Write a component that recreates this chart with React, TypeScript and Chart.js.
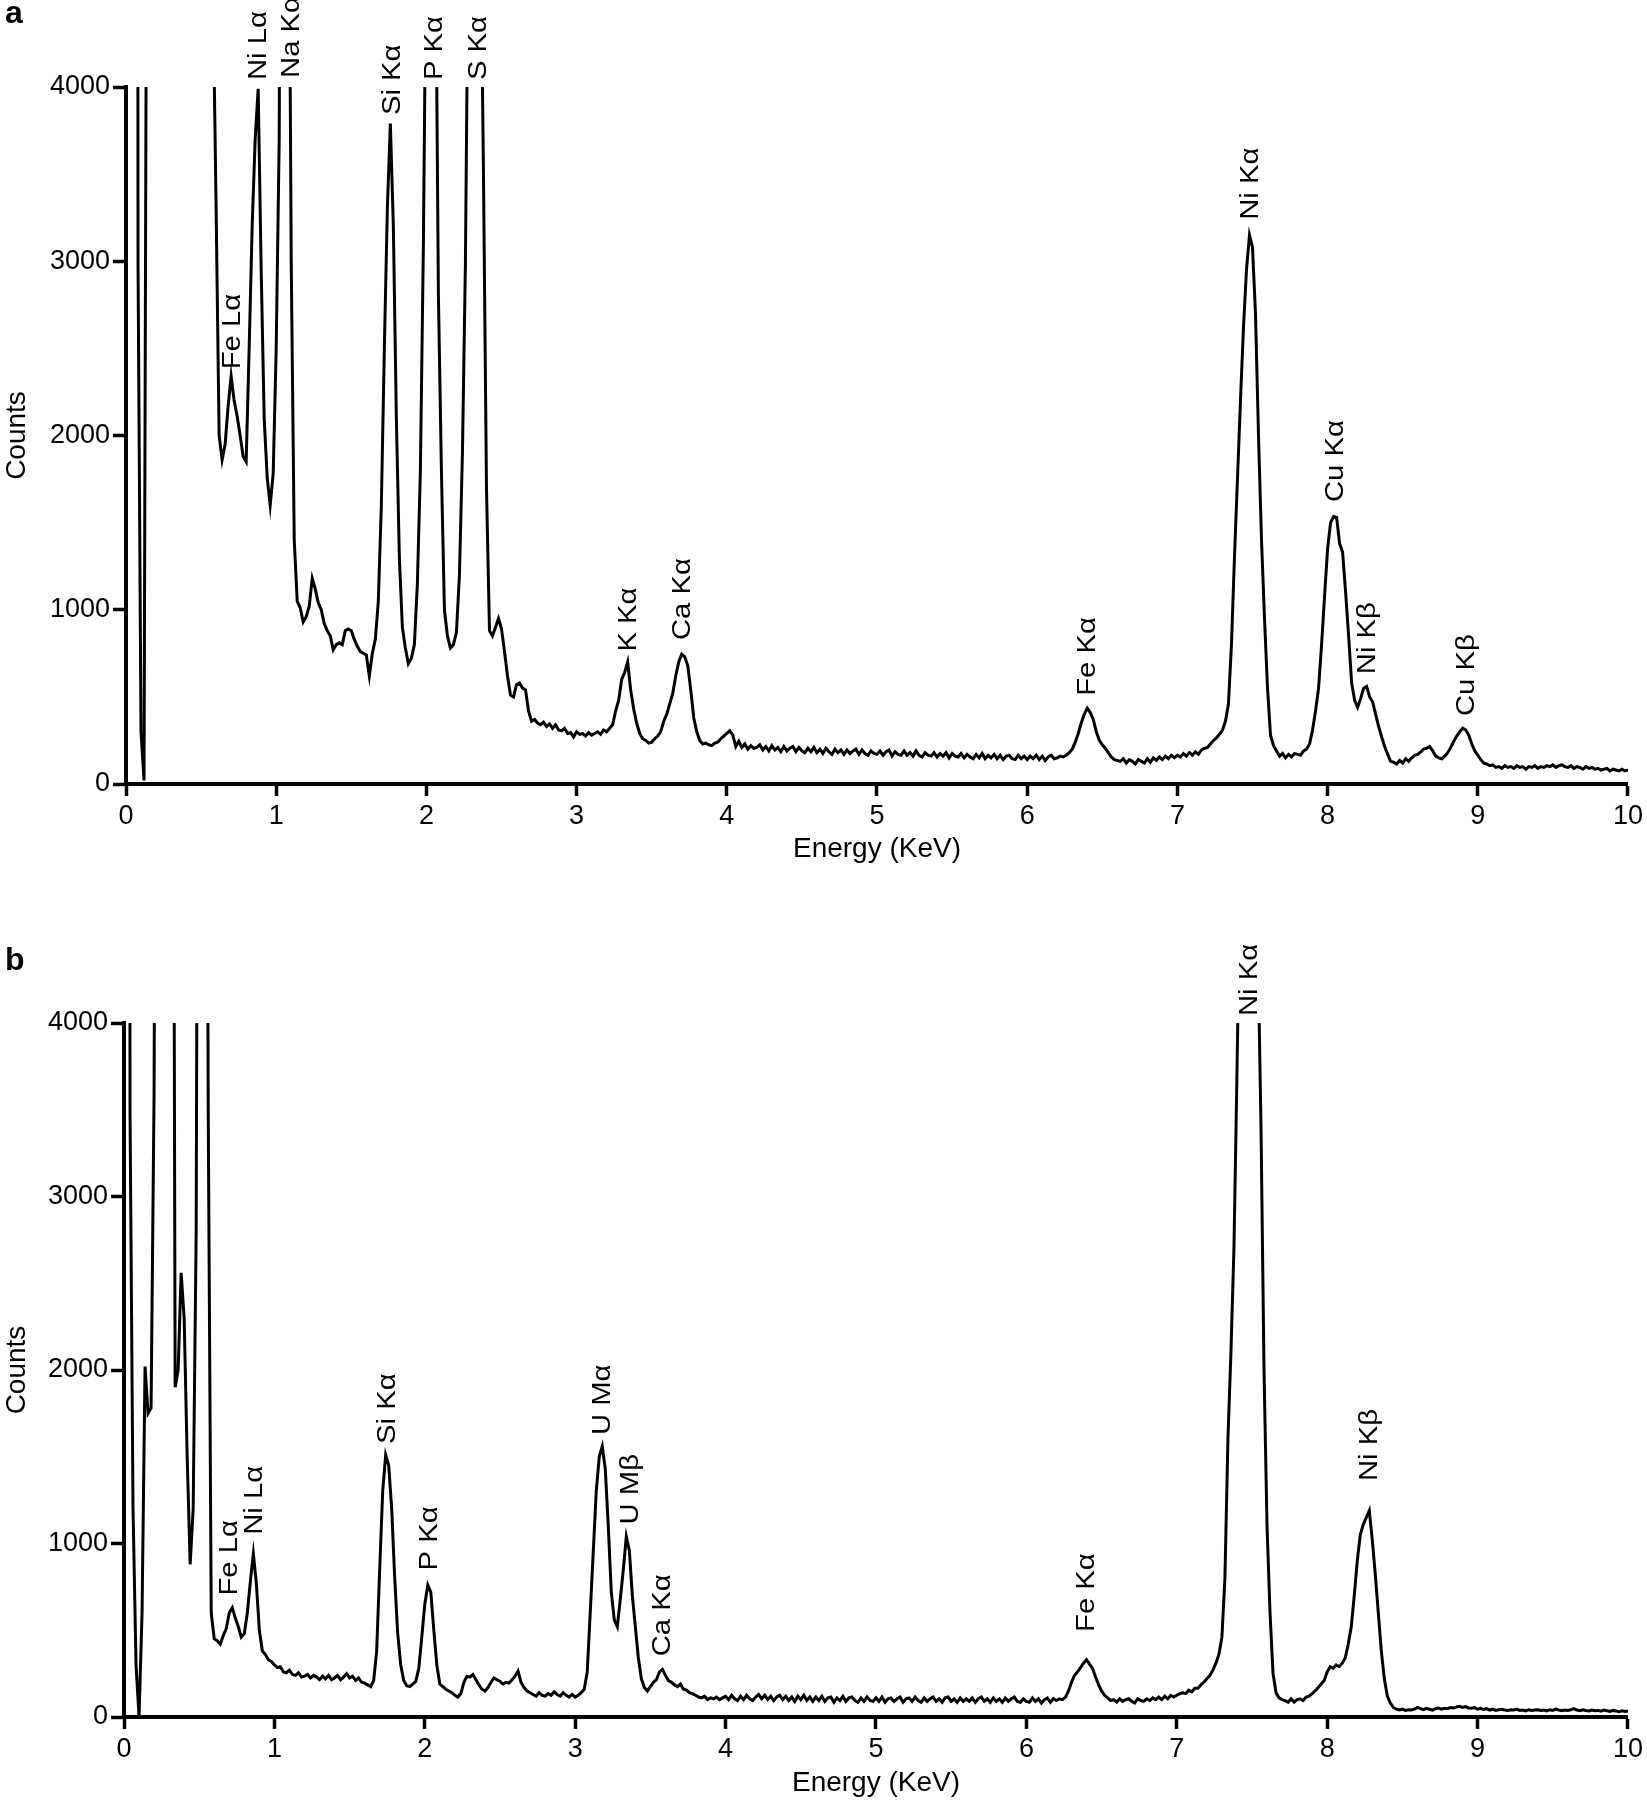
import React, { useEffect, useRef } from "react";
import { Chart, registerables } from "chart.js";

Chart.register(...registerables);

const FONT = '"Liberation Sans", Arial, Helvetica, sans-serif';

// Channel calibration: energy of channel i = ENERGY_START + i * ENERGY_STEP (keV)
const ENERGY_START = 0;
const ENERGY_STEP = 0.02;

const X_TICKS = [0, 1, 2, 3, 4, 5, 6, 7, 8, 9, 10];
const Y_TICKS = [0, 1000, 2000, 3000, 4000];
const X_TITLE = "Energy (KeV)";
const Y_TITLE = "Counts";
const PANEL_LETTERS = ["a", "b"];

// Panel a counts, 0.00 .. 10.00 keV
const countsA = [
  20000, 20000, 20000, 30000, 3000, 300, 20, 6000, 40000, 40000,
  40000, 40000, 40000, 40000, 40000, 40000, 40000, 40000, 40000, 40000,
  40000, 40000, 40000, 40000, 40000, 40000, 30000, 20000, 9000, 4500,
  3300, 2000, 1860, 1950, 2170, 2340, 2200, 2110, 2000, 1880,
  1850, 2500, 3200, 3700, 3990, 2950, 2100, 1760, 1600, 1780,
  2500, 3700, 9000, 12000, 6000, 3000, 1400, 1050, 1010, 930,
  960, 1020, 1180, 1120, 1040, 1000, 920, 880, 850, 770,
  800, 810, 800, 880, 890, 880, 830, 790, 760, 750,
  740, 620, 750, 830, 1050, 1600, 2500, 3300, 3790, 3200,
  2100, 1300, 900, 780, 690, 720, 800, 1150, 1800, 3100,
  5000, 9000, 9000, 5000, 2800, 1800, 1000, 850, 780, 800,
  870, 1200, 1900, 3000, 5000, 9000, 9000, 8000, 5000, 3500,
  1700, 880, 850, 900, 950, 890, 760, 620, 510, 500,
  570, 580, 550, 540, 420, 360, 370, 350, 340, 355,
  330, 345, 320, 340, 310, 305, 320, 290, 295, 270,
  300, 285, 290, 275, 295, 280, 290, 300, 285, 310,
  300, 320, 340, 420, 480, 600, 640, 700, 540, 430,
  350, 290, 260, 250, 235, 240, 260, 275, 300, 360,
  400, 460, 520, 620, 700, 745, 730, 680, 540, 380,
  300, 250, 230, 235, 225, 220, 235, 240, 260, 275,
  290, 305, 280, 215, 245, 210, 230, 200, 220, 205,
  210, 225, 195, 215, 190, 220, 195, 210, 185, 215,
  190, 205, 215, 185, 210, 190, 180, 205, 185, 210,
  180, 200, 175, 205, 185, 170, 200, 180, 195, 170,
  195, 175, 190, 200, 170, 195, 175, 165, 190, 175,
  170, 190, 165, 185, 195, 160, 185, 170, 165, 190,
  165, 180, 160, 190, 165, 155, 180, 165, 160, 180,
  155, 175, 160, 180, 150, 175, 160, 155, 175, 150,
  170, 155, 145, 170, 150, 175, 145, 165, 150, 170,
  145, 165, 140, 160, 165, 145, 140, 165, 145, 160,
  140, 160, 145, 165, 140, 160, 135, 155, 165, 145,
  150, 160, 155, 165, 180, 200, 240, 290, 350, 400,
  435, 410, 370, 300, 250, 225, 205, 180, 155, 140,
  135, 130, 145, 120, 140, 130, 115, 140, 130, 120,
  145, 125, 150, 135, 155, 140, 160, 145, 165, 150,
  165, 155, 175, 160, 180, 165, 185, 170, 195, 205,
  210, 230, 250, 265, 285, 310, 360, 460, 800, 1300,
  1750, 2200, 2620, 2950, 3150, 3080, 2700, 2000, 1400, 950,
  550, 280, 220, 190, 160, 175, 150, 170, 155, 175,
  170, 165, 190, 200, 230, 310, 420, 550, 800, 1080,
  1350, 1500, 1535, 1530, 1380, 1330, 1100, 850, 580, 480,
  440, 490, 550, 560, 500, 470, 400, 330, 270, 215,
  170, 130, 125, 115, 135, 120, 145, 130, 150, 165,
  170, 185, 200, 205, 215, 190, 160, 150, 145, 160,
  180, 210, 245, 275, 300, 320, 310, 280, 230, 190,
  165, 140, 120, 115, 105, 110, 95, 100, 90, 105,
  95, 100, 90, 105, 95, 100, 85, 100, 95, 105,
  90, 100, 95, 105, 100, 110, 95, 105, 110, 100,
  95, 105, 90, 100, 95, 85, 100, 90, 95, 85,
  90, 80, 85, 90, 75, 85, 80, 75, 85, 75,
  80,
];

// Panel b counts, 0.00 .. 10.00 keV
const countsB = [
  30000, 30000, 3500, 1200, 300, 0, 600, 2020, 1750, 1780,
  3600, 9000, 20000, 30000, 30000, 20000, 9000, 1900, 2000, 2560,
  2300, 1500, 880, 1200, 2800, 9000, 20000, 9000, 3500, 600,
  450, 440, 420, 470, 510, 600, 630, 570, 520, 460,
  480, 600, 780, 940, 770, 500, 380, 360, 330, 320,
  300, 285, 290, 260, 255, 270, 245, 240, 255, 230,
  235, 245, 225, 240, 230, 215, 235, 220, 240, 215,
  225, 240, 215, 230, 250, 225, 235, 210, 225, 200,
  195, 185, 175, 210, 380, 850, 1300, 1510, 1450, 1200,
  800, 480, 300, 210, 180, 175, 190, 205, 280, 460,
  650, 760, 720, 500, 300, 190, 175, 160, 150, 140,
  125, 115, 135, 200, 235, 230, 245, 215, 185, 160,
  150, 170, 200, 225, 215, 205, 190, 200, 195, 215,
  235, 265, 200, 170, 150, 140, 130, 120, 140, 125,
  120, 135, 125, 145, 130, 120, 140, 125, 115, 130,
  115, 125, 140, 160, 260, 600, 950, 1300, 1500, 1560,
  1430, 1100, 720, 560, 520, 680, 850, 1040, 960, 700,
  520, 340, 220, 170, 150, 175, 200, 215, 260, 275,
  240, 210, 200, 185, 175, 190, 160, 155, 140, 135,
  125, 115, 110, 120, 100, 110, 105, 115, 100, 110,
  120, 100, 125, 105, 95, 120, 100, 125, 105, 95,
  115, 130, 105, 125, 100, 120, 95, 115, 125, 100,
  120, 95, 115, 90, 120, 100, 125, 95, 115, 90,
  115, 95, 120, 90, 110, 115, 85, 110, 95, 120,
  90, 110, 115, 95, 85, 110, 90, 115, 95, 90,
  110, 90, 115, 85, 105, 110, 90, 105, 115, 85,
  105, 110, 90, 115, 95, 85, 110, 90, 105, 115,
  90, 105, 85, 110, 115, 90, 105, 85, 110, 90,
  105, 90, 110, 85, 105, 115, 90, 105, 85, 110,
  90, 105, 85, 110, 90, 105, 115, 90, 85, 105,
  90, 85, 110, 90, 105, 80, 100, 110, 85, 105,
  95, 105, 100, 115, 150, 200, 240, 260, 285, 310,
  330, 305, 280, 230, 185, 150, 125, 110, 95, 100,
  85, 105, 90, 100, 105, 90, 80, 105, 95, 90,
  105, 95, 110, 100, 115, 100, 120, 105, 125, 115,
  125, 135, 140, 135, 155, 145, 165, 165, 185, 200,
  220, 240, 270, 310, 360, 460, 800, 1600, 2100, 2700,
  3700, 4800, 6000, 6800, 7000, 6900, 6200, 4400, 3400, 2000,
  1100, 600, 250, 140, 110, 100, 95, 85, 105, 85,
  100, 105, 95, 115, 120, 135, 150, 170, 190, 210,
  260, 290, 280, 300, 290, 310, 340, 420, 520, 700,
  900, 1050, 1110, 1150, 1190, 1020, 820, 600, 380, 220,
  120, 80, 55, 45, 40, 45, 38, 42, 40, 45,
  55, 48, 42, 50, 45, 40, 48, 52, 45, 50,
  48, 55, 52, 58, 62, 55, 60, 52, 50, 55,
  45, 50, 42, 48, 40, 45, 38, 42, 45, 40,
  38, 42, 40, 45, 38, 40, 35, 42, 38, 40,
  42, 38, 40, 35, 42, 38, 45, 40, 36, 40,
  38, 42, 48, 40, 36, 42, 38, 35, 40, 36,
  38, 34, 40, 36, 32, 38, 35, 30, 36, 32,
  35,
];

// Peak annotations: name, energy (keV), count level where the label starts
const peakNamesA = ["Fe L\u03b1", "Ni L\u03b1", "Na K\u03b1", "Si K\u03b1", "P K\u03b1", "S K\u03b1", "K K\u03b1", "Ca K\u03b1", "Fe K\u03b1", "Ni K\u03b1", "Cu K\u03b1", "Ni K\u03b2", "Cu K\u03b2"];
const peakEnergiesA = [0.714, 0.884, 1.105, 1.776, 2.058, 2.348, 3.35, 3.712, 6.405, 7.49, 8.058, 8.273, 8.926];
const peakLabelCountsA = [2380, 4040, 4052, 3839, 4040, 4040, 760, 826, 506, 3238, 1618, 630, 390];

const peakNamesB = ["Fe L\u03b1", "Ni L\u03b1", "Si K\u03b1", "P K\u03b1", "U M\u03b1", "U M\u03b2", "Ca K\u03b1", "Fe K\u03b1", "Ni K\u03b1", "Ni K\u03b2"];
const peakEnergiesB = [0.706, 0.875, 1.759, 2.036, 3.187, 3.37, 3.583, 6.402, 7.485, 8.285];
const peakLabelCountsB = [700, 1050, 1574, 845, 1625, 1110, 350, 490, 4040, 1360];

type PanelProps = {
  counts: number[];
  names: string[];
  energies: number[];
  anchors: number[];
  letter: string;
  top: number;
  padTop: number;
  padRight: number;
  yWidth: number;
  xHeight: number;
  xTitlePad: number;
  letterBaseline: number;
};

function Panel(p: PanelProps) {
  const ref = useRef<HTMLCanvasElement | null>(null);
  useEffect(() => {
    if (!ref.current) return;
    const points = p.counts.map((c, i) => ({
      x: Math.round((ENERGY_START + i * ENERGY_STEP) * 100) / 100,
      y: c,
    }));
    const labelPlugin = {
      id: "peakLabels",
      afterDraw(chart: any) {
        const { ctx } = chart;
        const xs = chart.scales.x;
        const ys = chart.scales.y;
        ctx.save();
        ctx.fillStyle = "#000";
        ctx.font = `25px ${FONT}`;
        ctx.textAlign = "left";
        ctx.textBaseline = "middle";
        p.names.forEach((name, i) => {
          const px = xs.getPixelForValue(p.energies[i]);
          const py = ys.getPixelForValue(p.anchors[i]);
          ctx.save();
          ctx.translate(px, py);
          ctx.rotate(-Math.PI / 2);
          ctx.scale(1.17, 1);
          ctx.fillText(name, 0, 0);
          ctx.restore();
        });
        ctx.font = `bold 32px ${FONT}`;
        ctx.textBaseline = "alphabetic";
        ctx.fillText(p.letter, 5, p.letterBaseline);
        ctx.restore();
      },
    };
    const chart = new Chart(ref.current, {
      type: "line",
      data: {
        datasets: [
          {
            data: points,
            borderColor: "#000",
            borderWidth: 3,
            pointRadius: 0,
            tension: 0,
            fill: false,
            clip: 0,
          } as any,
        ],
      },
      options: {
        animation: false,
        responsive: false,
        devicePixelRatio: 1,
        layout: { padding: { top: p.padTop, right: p.padRight, left: 0, bottom: 0 } },
        plugins: { legend: { display: false }, tooltip: { enabled: false } },
        scales: {
          x: {
            type: "linear",
            min: 0,
            max: 10,
            afterBuildTicks: (axis: any) => {
              axis.ticks = X_TICKS.map((v) => ({ value: v }));
            },
            afterFit: (axis: any) => {
              axis.height = p.xHeight;
            },
            ticks: {
              color: "#000",
              font: { family: FONT, size: 27 },
              padding: 4,
              maxRotation: 0,
              autoSkip: false,
              callback: (v: any) => String(v),
            },
            grid: {
              display: true,
              drawOnChartArea: false,
              drawTicks: true,
              tickLength: 12,
              tickWidth: 3.5,
              tickColor: "#000",
              color: "#000",
            },
            border: { display: true, color: "#000", width: 4 },
            title: {
              display: true,
              text: X_TITLE,
              color: "#000",
              font: { family: FONT, size: 28 },
              padding: { top: 0, bottom: p.xTitlePad },
            },
          },
          y: {
            type: "linear",
            min: 0,
            max: 4000,
            afterBuildTicks: (axis: any) => {
              axis.ticks = Y_TICKS.map((v) => ({ value: v }));
            },
            afterFit: (axis: any) => {
              axis.width = p.yWidth;
            },
            ticks: {
              color: "#000",
              font: { family: FONT, size: 27 },
              padding: 3,
              autoSkip: false,
              callback: (v: any) => String(v),
            },
            grid: {
              display: true,
              drawOnChartArea: false,
              drawTicks: true,
              tickLength: 13,
              tickWidth: 3.5,
              tickColor: "#000",
              color: "#000",
            },
            border: { display: true, color: "#000", width: 4 },
            title: {
              display: true,
              text: Y_TITLE,
              color: "#000",
              font: { family: FONT, size: 28 },
              padding: { top: 0, bottom: 0 },
            },
          },
        },
      } as any,
      plugins: [labelPlugin],
    });
    return () => chart.destroy();
  }, []);
  return (
    <div style={{ position: "absolute", left: 0, top: p.top, width: 1647, height: 900 }}>
      <canvas ref={ref} width={1647} height={900} style={{ display: "block", width: 1647, height: 900 }} />
    </div>
  );
}

export default function App() {
  return (
    <div style={{ position: "absolute", left: 0, top: 0, width: 1647, height: 1800, background: "#fff" }}>
      <Panel
        counts={countsA}
        names={peakNamesA}
        energies={peakEnergiesA}
        anchors={peakLabelCountsA}
        letter={PANEL_LETTERS[0]}
        top={0}
        padTop={87}
        padRight={15}
        yWidth={126}
        xHeight={116}
        xTitlePad={34}
        letterBaseline={23}
      />
      <Panel
        counts={countsB}
        names={peakNamesB}
        energies={peakEnergiesB}
        anchors={peakLabelCountsB}
        letter={PANEL_LETTERS[1]}
        top={900}
        padTop={123}
        padRight={17}
        yWidth={124}
        xHeight={83}
        xTitlePad={0}
        letterBaseline={70}
      />
    </div>
  );
}
